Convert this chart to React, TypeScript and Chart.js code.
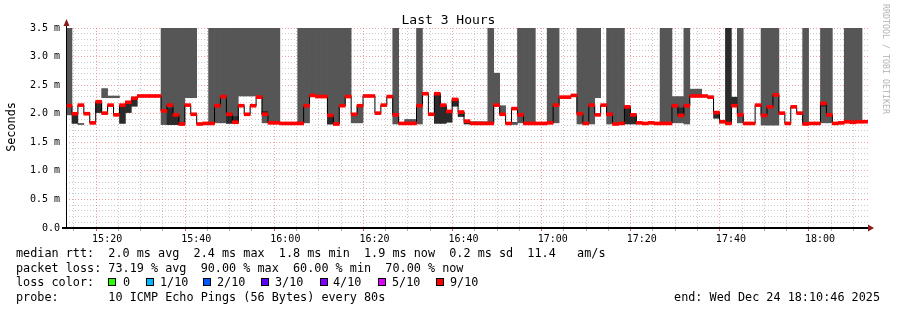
import React, { useEffect, useRef } from "react";
import { Chart, registerables } from "chart.js";

Chart.register(...registerables);

const N = null;

// time: minutes after 15:00; graph spans 15:10:46 .. 18:10:46, one sample every 80 s
const START_MIN = 10 + 46 / 60;
const STEP_MIN = 80 / 60;
const END_MIN = START_MIN + 180;

// median RTT per 80 s step (ms)
const medianRtt = [
  2.14, 2.0, 2.15, 2.0, 1.84, 2.21, 2.01, 2.15, 1.98, 2.15, 2.2, 2.27, 2.31, 2.31, 2.31,
  2.31, 2.05, 2.15, 1.98, 1.82, 2.15, 1.99, 1.82, 1.83, 1.83, 2.14, 2.3, 1.99, 1.85, 2.14,
  1.99, 2.14, 2.29, 1.99, 1.84, 1.84, 1.83, 1.83, 1.83, 1.83, 2.14, 2.32, 2.3, 2.3, 1.97,
  1.82, 2.14, 2.3, 1.99, 2.14, 2.31, 2.31, 2.01, 2.15, 2.3, 1.98, 1.83, 1.83, 1.83, 2.14,
  2.35, 1.99, 2.35, 2.15, 2.04, 2.25, 2.03, 1.87, 1.83, 1.83, 1.83, 1.83, 2.15, 1.99, 1.83,
  2.09, 1.98, 1.83, 1.83, 1.83, 1.83, 1.84, 2.15, 2.29, 2.29, 2.32, 2.0, 1.83, 2.15, 1.98,
  2.15, 1.99, 1.82, 1.83, 2.12, 1.98, 1.84, 1.83, 1.84, 1.83, 1.83, 1.83, 2.14, 1.97, 2.14,
  2.31, 2.31, 2.31, 2.29, 2.02, 1.86, 1.83, 2.14, 1.98, 1.83, 1.83, 2.15, 1.97, 2.12, 2.33,
  2.01, 1.83, 2.12, 2.01, 1.82, 1.83, 1.83, 2.18, 1.98, 1.83, 1.84, 1.86, 1.85, 1.86, 1.86,
];

// smoke (spread of the individual pings), lower / upper edge (ms)
const smokeLo = [
  1.98, N, 1.81, N, N, N, 2.28, 2.28, 2.28, N, N, N, N, N, N,
  N, 1.81, 1.81, 1.81, 1.8, 2.28, 2.28, N, N, 1.84, 1.84, 1.84, 1.84, 1.84, 2.31,
  2.31, 2.31, 2.31, 1.84, 1.84, 1.84, N, N, N, 1.84, 1.84, 2.32, 2.32, 2.32, 1.82,
  1.82, 2.14, 2.3, 1.84, 1.84, N, N, N, N, N, 1.82, N, 1.84, 1.84, 1.82,
  N, N, N, N, N, N, N, N, 1.83, 1.83, 1.83, 1.84, 2.15, 1.99, N,
  1.81, 1.84, 1.84, 1.84, N, N, 1.84, 1.84, N, N, N, 1.82, 1.82, 1.82, 2.28,
  N, 1.82, 1.82, 1.82, N, N, N, N, N, N, 1.84, 1.84, 1.84, 1.84, 1.82,
  2.31, 2.31, N, N, N, N, N, N, 1.84, N, N, N, 1.8, 1.8, 1.8,
  N, N, N, N, 1.82, N, N, 1.84, 1.84, N, N, 1.84, 1.84, 1.84, N,
];
const smokeHi = [
  3.6, N, 1.83, N, N, N, 2.44, 2.31, 2.31, N, N, N, N, N, N,
  N, 3.6, 3.6, 3.6, 3.6, 3.6, 3.6, N, N, 3.6, 3.6, 3.6, 3.6, 3.6, 3.6,
  3.6, 3.6, 3.6, 3.6, 3.6, 3.6, N, N, N, 3.6, 3.6, 3.6, 3.6, 3.6, 3.6,
  3.6, 3.6, 3.6, 1.98, 2.14, N, N, N, N, N, 3.6, N, 1.9, 1.9, 3.6,
  N, N, N, N, N, N, N, N, 1.86, 1.86, 1.86, 3.6, 2.71, 2.14, N,
  1.85, 3.6, 3.6, 3.6, N, N, 3.6, 3.6, N, N, N, 3.6, 3.6, 3.6, 3.6,
  N, 3.6, 3.6, 3.6, N, N, N, N, N, N, 3.6, 3.6, 2.3, 2.3, 3.6,
  2.43, 2.43, N, N, N, N, N, N, 3.6, N, N, N, 3.6, 3.6, 3.6,
  N, N, N, N, 3.6, N, N, 3.6, 3.6, N, N, 3.6, 3.6, 3.6, N,
];

// dense part of the smoke, lower / upper edge (ms)
const denseLo = [
  N, 1.83, N, N, N, 2.02, N, N, N, 1.83, 2.02, 2.13, N, N, N,
  N, N, 1.81, 1.81, N, N, N, N, N, N, N, N, 1.83, 1.83, N,
  N, N, N, 1.99, N, N, N, N, N, N, N, N, N, N, 1.82,
  N, N, N, N, N, N, N, N, N, N, N, N, N, N, N,
  N, N, 1.83, 1.83, 1.85, 2.13, 1.95, 1.82, N, N, N, N, N, N, N,
  N, N, N, N, N, N, N, N, N, N, N, N, N, N, N,
  N, N, N, N, 1.82, 1.82, N, N, N, N, N, N, N, 1.97, N,
  N, N, N, N, 1.92, 1.84, 1.83, 2.14, N, N, N, N, N, N, N,
  N, N, N, N, N, N, N, 2.13, N, N, N, N, N, N, N,
];
const denseHi = [
  N, 2.0, N, N, N, 2.2, N, N, N, 2.15, 2.2, 2.29, N, N, N,
  N, N, 2.1, 1.98, N, N, N, N, N, N, N, N, 1.99, 1.95, N,
  N, N, N, 2.04, N, N, N, N, N, N, N, N, N, N, 1.97,
  N, N, N, N, N, N, N, N, N, N, N, N, N, N, N,
  N, N, 2.35, 2.15, 2.04, 2.25, 2.03, 1.87, N, N, N, N, N, N, N,
  N, N, N, N, N, N, N, N, N, N, N, N, N, N, N,
  N, N, N, N, 2.12, 1.98, N, N, N, N, N, N, N, 2.1, N,
  N, N, N, N, 2.02, 1.86, 3.6, 2.29, N, N, N, N, N, N, N,
  N, N, N, N, N, N, N, 2.18, N, N, N, N, N, N, N,
];

const Y_MAX = 3.5;
const titleText = "Last 3 Hours";
const yAxisTitle = "Seconds";
const sideText = "RRDTOOL / TOBI OETIKER";
const statsLine = "median rtt:  2.0 ms avg  2.4 ms max  1.8 ms min  1.9 ms now  0.2 ms sd  11.4   am/s";
const lossLine = "packet loss: 73.19 % avg  90.00 % max  60.00 % min  70.00 % now";
const lossColorLabel = "loss color:";
const lossLabels = ["0", "1/10", "2/10", "3/10", "4/10", "5/10", "9/10"];
const lossColors = ["#26ff00", "#00b8ff", "#0059ff", "#5e00ff", "#7e00ff", "#dd00ff", "#ff0000"];
const probeLine = "probe:       10 ICMP Echo Pings (56 Bytes) every 80s";
const endLine = "end: Wed Dec 24 18:10:46 2025";

// layout of the loss-colour legend row
const lossBoxX = [108, 146, 203, 261, 320, 378, 436];
const lossTextX = [123, 160, 217, 275, 333, 392, 450];

const MONO = "'DejaVu Sans Mono', monospace";
const MAJOR_GRID = "rgba(225, 70, 70, 0.5)";
const MINOR_GRID = "rgba(150, 150, 150, 0.5)";

function hhmm(min: number) {
  const t = 15 * 60 + Math.round(min);
  const h = Math.floor(t / 60);
  const m = t % 60;
  return `${String(h).padStart(2, "0")}:${String(m).padStart(2, "0")}`;
}

const axesPlugin = {
  id: "rrdAxes",
  afterDraw(chart: any) {
    const { ctx, chartArea: a } = chart;
    ctx.save();
    ctx.fillStyle = "#000";
    ctx.fillRect(a.left, a.top - 4, 1, a.bottom - a.top + 5);
    ctx.fillRect(a.left - 4, a.bottom - 1, a.right - a.left + 5, 2);
    ctx.fillStyle = "#8e1b1b";
    ctx.beginPath();
    ctx.moveTo(a.left + 0.5, a.top - 9);
    ctx.lineTo(a.left + 3.5, a.top - 2);
    ctx.lineTo(a.left - 2.5, a.top - 2);
    ctx.closePath();
    ctx.fill();
    ctx.beginPath();
    ctx.moveTo(a.right + 6, a.bottom);
    ctx.lineTo(a.right, a.bottom - 3.5);
    ctx.lineTo(a.right, a.bottom + 3.5);
    ctx.closePath();
    ctx.fill();
    ctx.restore();
  },
};

export default function App() {
  const ref = useRef<HTMLCanvasElement>(null);

  useEffect(() => {
    const xs = medianRtt.map((_, i) => START_MIN + STEP_MIN * (i + 0.5));
    const band = (lo: (number | null)[], hi: (number | null)[]) =>
      xs
        .map((x, i) => (lo[i] == null || hi[i] == null ? null : { x, y: [lo[i], hi[i]] }))
        .filter((p) => p !== null);
    const barCommon = {
      grouped: false,
      barPercentage: 1,
      categoryPercentage: 1,
      borderWidth: 0,
    };
    const chart = new Chart(ref.current as HTMLCanvasElement, {
      type: "bar",
      data: {
        datasets: [
          {
            type: "bar",
            label: "smoke",
            data: band(smokeLo, smokeHi) as any,
            backgroundColor: "#565656",
            order: 4,
            ...barCommon,
          },
          {
            type: "bar",
            label: "dense smoke",
            data: band(denseLo, denseHi) as any,
            backgroundColor: "#2b2b2b",
            order: 3,
            ...barCommon,
          },
          {
            type: "line",
            label: "median rtt",
            data: xs.map((x, i) => ({ x, y: medianRtt[i] })),
            stepped: "middle",
            borderColor: "#000",
            borderWidth: 1,
            pointRadius: 0,
            order: 2,
          },
          {
            type: "bar",
            label: "median (loss colour)",
            data: xs.map((x, i) => ({ x, y: [medianRtt[i] - 0.026, medianRtt[i] + 0.026] })) as any,
            backgroundColor: "#ff0000",
            order: 1,
            ...barCommon,
          },
        ] as any,
      },
      options: {
        responsive: false,
        animation: false,
        devicePixelRatio: 1,
        layout: { padding: { top: 28, right: 29, left: 0, bottom: 0 } },
        plugins: {
          legend: { display: false },
          tooltip: { enabled: false },
          title: { display: false },
        },
        scales: {
          x: {
            type: "linear",
            min: START_MIN,
            max: END_MIN,
            offset: false,
            afterBuildTicks: (s: any) => {
              const t = [];
              for (let v = 15; v <= 190; v += 5) t.push({ value: v });
              s.ticks = t;
            },
            afterFit: (s: any) => {
              s.height = 82;
            },
            ticks: {
              autoSkip: false,
              maxRotation: 0,
              minRotation: 0,
              padding: 2,
              color: "#000",
              font: { family: MONO, size: 10 },
              callback: (v: any) => (Math.round(v) % 20 === 0 ? hhmm(v) : ""),
            },
            grid: {
              color: (c: any) => (c.tick && Math.round(c.tick.value) % 20 === 0 ? MAJOR_GRID : MINOR_GRID),
              tickColor: (c: any) =>
                c.tick && Math.round(c.tick.value) % 20 === 0 ? "rgba(210,40,40,0.8)" : "rgba(120,120,120,0.6)",
              tickLength: 3,
              lineWidth: 1,
            },
            border: { display: false, dash: [1, 2] },
          },
          y: {
            min: 0,
            max: Y_MAX,
            afterBuildTicks: (s: any) => {
              const t = [];
              for (let i = 0; i <= 35; i++) t.push({ value: i / 10 });
              s.ticks = t;
            },
            afterFit: (s: any) => {
              s.width = 66;
            },
            ticks: {
              autoSkip: false,
              padding: 6,
              color: "#000",
              font: { family: MONO, size: 10 },
              callback: (v: any) => {
                const k = Math.round(v * 10);
                if (k % 5 !== 0) return "";
                return k === 0 ? "0.0" : (k / 10).toFixed(1) + " m";
              },
            },
            grid: {
              color: (c: any) => (c.tick && Math.round(c.tick.value * 10) % 5 === 0 ? MAJOR_GRID : MINOR_GRID),
              drawTicks: false,
              lineWidth: 1,
            },
            border: { display: false, dash: [1, 2] },
          },
        },
      } as any,
      plugins: [axesPlugin],
    });
    return () => chart.destroy();
  }, []);

  const textStyle: React.CSSProperties = {
    position: "absolute",
    fontFamily: MONO,
    fontSize: "11.8px",
    lineHeight: "14px",
    whiteSpace: "pre",
    color: "#000",
  };

  return (
    <div style={{ position: "fixed", left: 0, top: 0, width: 897, height: 310, background: "#fff", overflow: "hidden" }}>
      <canvas ref={ref} width={897} height={310} style={{ position: "absolute", left: 0, top: 0, width: 897, height: 310 }} />
      <div style={{ ...textStyle, left: 0, width: 897, top: 12, fontSize: "13px", lineHeight: "16px", textAlign: "center" }}>
        {titleText}
      </div>
      <div
        style={{
          ...textStyle,
          left: -39,
          top: 120,
          width: 100,
          textAlign: "center",
          transform: "rotate(-90deg)",
        }}
      >
        {yAxisTitle}
      </div>
      <div
        style={{
          ...textStyle,
          left: 826,
          top: 54,
          width: 120,
          fontSize: "8.3px",
          lineHeight: "10px",
          textAlign: "center",
          color: "#b4b4b4",
          transform: "rotate(90deg)",
        }}
      >
        {sideText}
      </div>
      <div style={{ ...textStyle, left: 16, top: 246 }}>{statsLine}</div>
      <div style={{ ...textStyle, left: 16, top: 261 }}>{lossLine}</div>
      <div style={{ ...textStyle, left: 16, top: 275 }}>{lossColorLabel}</div>
      {lossLabels.map((lab, i) => (
        <React.Fragment key={lab}>
          <div
            style={{
              position: "absolute",
              left: lossBoxX[i],
              top: 278,
              width: 8,
              height: 8,
              boxSizing: "border-box",
              border: "1px solid #000",
              background: lossColors[i],
            }}
          />
          <div style={{ ...textStyle, left: lossTextX[i], top: 275 }}>{lab}</div>
        </React.Fragment>
      ))}
      <div style={{ ...textStyle, left: 16, top: 290 }}>{probeLine}</div>
      <div style={{ ...textStyle, right: 17, top: 290 }}>{endLine}</div>
    </div>
  );
}
